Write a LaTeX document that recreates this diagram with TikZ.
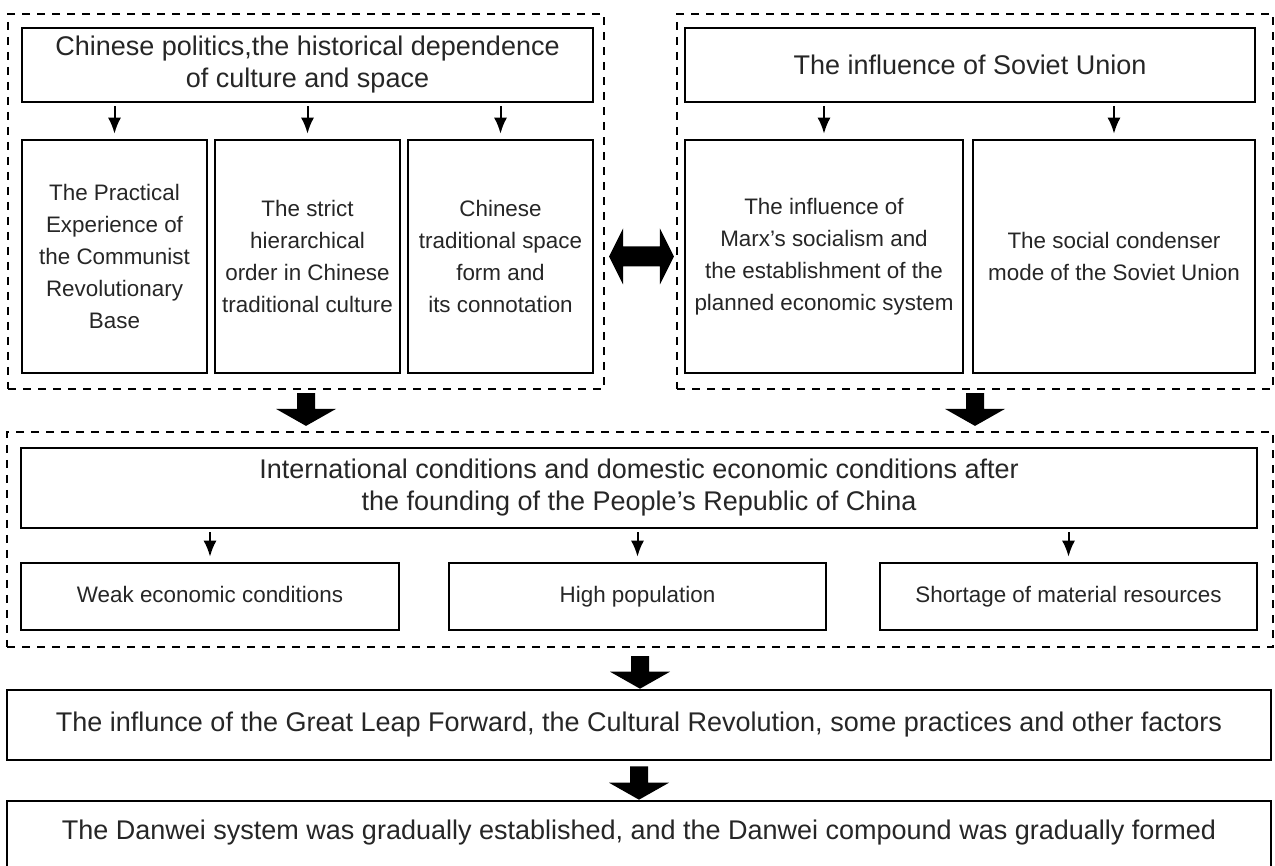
\documentclass[tikz,border=0pt]{standalone}
\usepackage{fontspec}
\setmainfont{Liberation Sans}
\usetikzlibrary{arrows.meta,calc}
\tikzset{
  box/.style={draw=black, line width=1.3pt, rectangle, inner sep=0pt, align=center, text=black!85},
  group/.style={draw=black, line width=1.1pt, dash pattern=on 4pt off 3.5pt, rectangle, inner sep=0pt},
  bigtext/.style={font=\fontsize{13.5}{16}\selectfont},
  smalltext/.style={font=\fontsize{11.2}{16}\selectfont},
  oneline/.style={text height=8.2pt, text depth=2.4pt},
  smallarrow/.style={line width=1pt, -{Latex[length=8pt,width=6.5pt]}},
  fatfill/.style={fill=black}
}
\newcommand\mybigarrow[2]{%
  \fill[fatfill] ($(#1)+(-9,0)$) -- ($(#1)+(9,0)$) -- ($(#2)+(9,-17)$) -- ($(#2)+(30,-17)$)
    -- (#2) -- ($(#2)+(-30,-17)$) -- ($(#2)+(-9,-17)$) -- cycle;}
\begin{document}
\begin{tikzpicture}[x=0.5pt,y=-0.5pt]
\useasboundingbox (0,0) rectangle (1275,866);
\clip (0,0) rectangle (1275,866);
\fill[white] (0,0) rectangle (1275,866);

% groups
\node[group, minimum width=298pt, minimum height=187.5pt] (lgroup) at (306,201.5) {};
\node[group, minimum width=298pt, minimum height=187.5pt] (rgroup) at (975,201.5) {};
\node[group, minimum width=633pt, minimum height=107.5pt] (mgroup) at (640,539.5) {};

% left group
\node[box, bigtext, minimum width=285.5pt, minimum height=37pt] (ltop) at (307.5,65)
  {Chinese politics,the historical dependence\\of culture and space};
\node[box, smalltext, minimum width=92.5pt, minimum height=116.5pt] (l1) at (114.5,256.5)
  {The Practical\\Experience of\\the Communist\\Revolutionary\\Base};
\node[box, smalltext, minimum width=92.5pt, minimum height=116.5pt] (l2) at (307.5,256.5)
  {The strict\\hierarchical\\order in Chinese\\traditional culture};
\node[box, smalltext, minimum width=92.5pt, minimum height=116.5pt] (l3) at (500.5,256.5)
  {Chinese\\traditional space\\form and\\its connotation};

% right group
\node[box, bigtext, minimum width=285pt, minimum height=37pt] (rtop) at (970,65)
  {The influence of Soviet Union};
\node[box, smalltext, minimum width=139pt, minimum height=116.5pt] (r1) at (824,256.5)
  {The influence of\\Marx's socialism and\\the establishment of the\\planned economic system};
\node[box, smalltext, minimum width=141pt, minimum height=116.5pt] (r2) at (1114,256.5)
  {The social condenser\\mode of the Soviet Union};

% middle group
\node[box, bigtext, minimum width=618pt, minimum height=40pt] (mtop) at (639,488)
  {International conditions and domestic economic conditions after\\the founding of the People’s Republic of China};
\node[box, smalltext, oneline, minimum width=189pt, minimum height=33.5pt] (m1) at (210,596.5)
  {Weak economic conditions};
\node[box, smalltext, oneline, minimum width=188.5pt, minimum height=33.5pt] (m2) at (637.5,596.5)
  {High population};
\node[box, smalltext, oneline, minimum width=188.5pt, minimum height=33.5pt] (m3) at (1068.5,596.5)
  {Shortage of material resources};

% bottom boxes
\node[box, bigtext, minimum width=632pt, minimum height=35pt] (leap) at (639,725)
  {The influnce of the Great Leap Forward, the Cultural Revolution, some practices and other factors};
\node[box, minimum width=632pt, minimum height=40pt] (danwei) at (639,841) {};
\node[bigtext, text=black!85, inner sep=0pt] (danweitext) at (639,833)
  {The Danwei system was gradually established, and the Danwei compound was gradually formed};

% small arrows
\foreach \t/\b in {ltop/l1, ltop/l2, ltop/l3, rtop/r1, rtop/r2, mtop/m1, mtop/m2, mtop/m3}{
  \draw[smallarrow] ([yshift=-1.5pt]\t.south -| \b.north) -- ([yshift=2.5pt]\b.north);
}

% big arrows
\coordinate (a1top) at ([yshift=-1.5pt]lgroup.south);
\coordinate (a1tip) at ([yshift=2.5pt]mgroup.north -| lgroup.south);
\mybigarrow{a1top}{a1tip}
\coordinate (a2top) at ([yshift=-1.5pt]rgroup.south);
\coordinate (a2tip) at ([yshift=2.5pt]mgroup.north -| rgroup.south);
\mybigarrow{a2top}{a2tip}
\coordinate (a3top) at ([yshift=-4pt]mgroup.south);
\coordinate (a3tip) at (leap.north -| a3top);
\mybigarrow{a3top}{a3tip}
\coordinate (a4top) at ([yshift=-2.5pt]leap.south);
\coordinate (a4tip) at (danwei.north -| a4top);
\mybigarrow{a4top}{a4tip}

% double arrow between groups
\coordinate (dl) at ([xshift=2pt]lgroup.east |- l3.east);
\coordinate (dr) at ([xshift=-1pt]rgroup.west |- r1.west);
\fill[fatfill] (dl) -- ($(dl)+(14,-28)$) -- ($(dl)+(14,-10)$) -- ($(dr)+(-14,-10)$) -- ($(dr)+(-14,-28)$)
  -- (dr) -- ($(dr)+(-14,28)$) -- ($(dr)+(-14,10)$) -- ($(dl)+(14,10)$) -- ($(dl)+(14,28)$) -- cycle;
\end{tikzpicture}
\end{document}
